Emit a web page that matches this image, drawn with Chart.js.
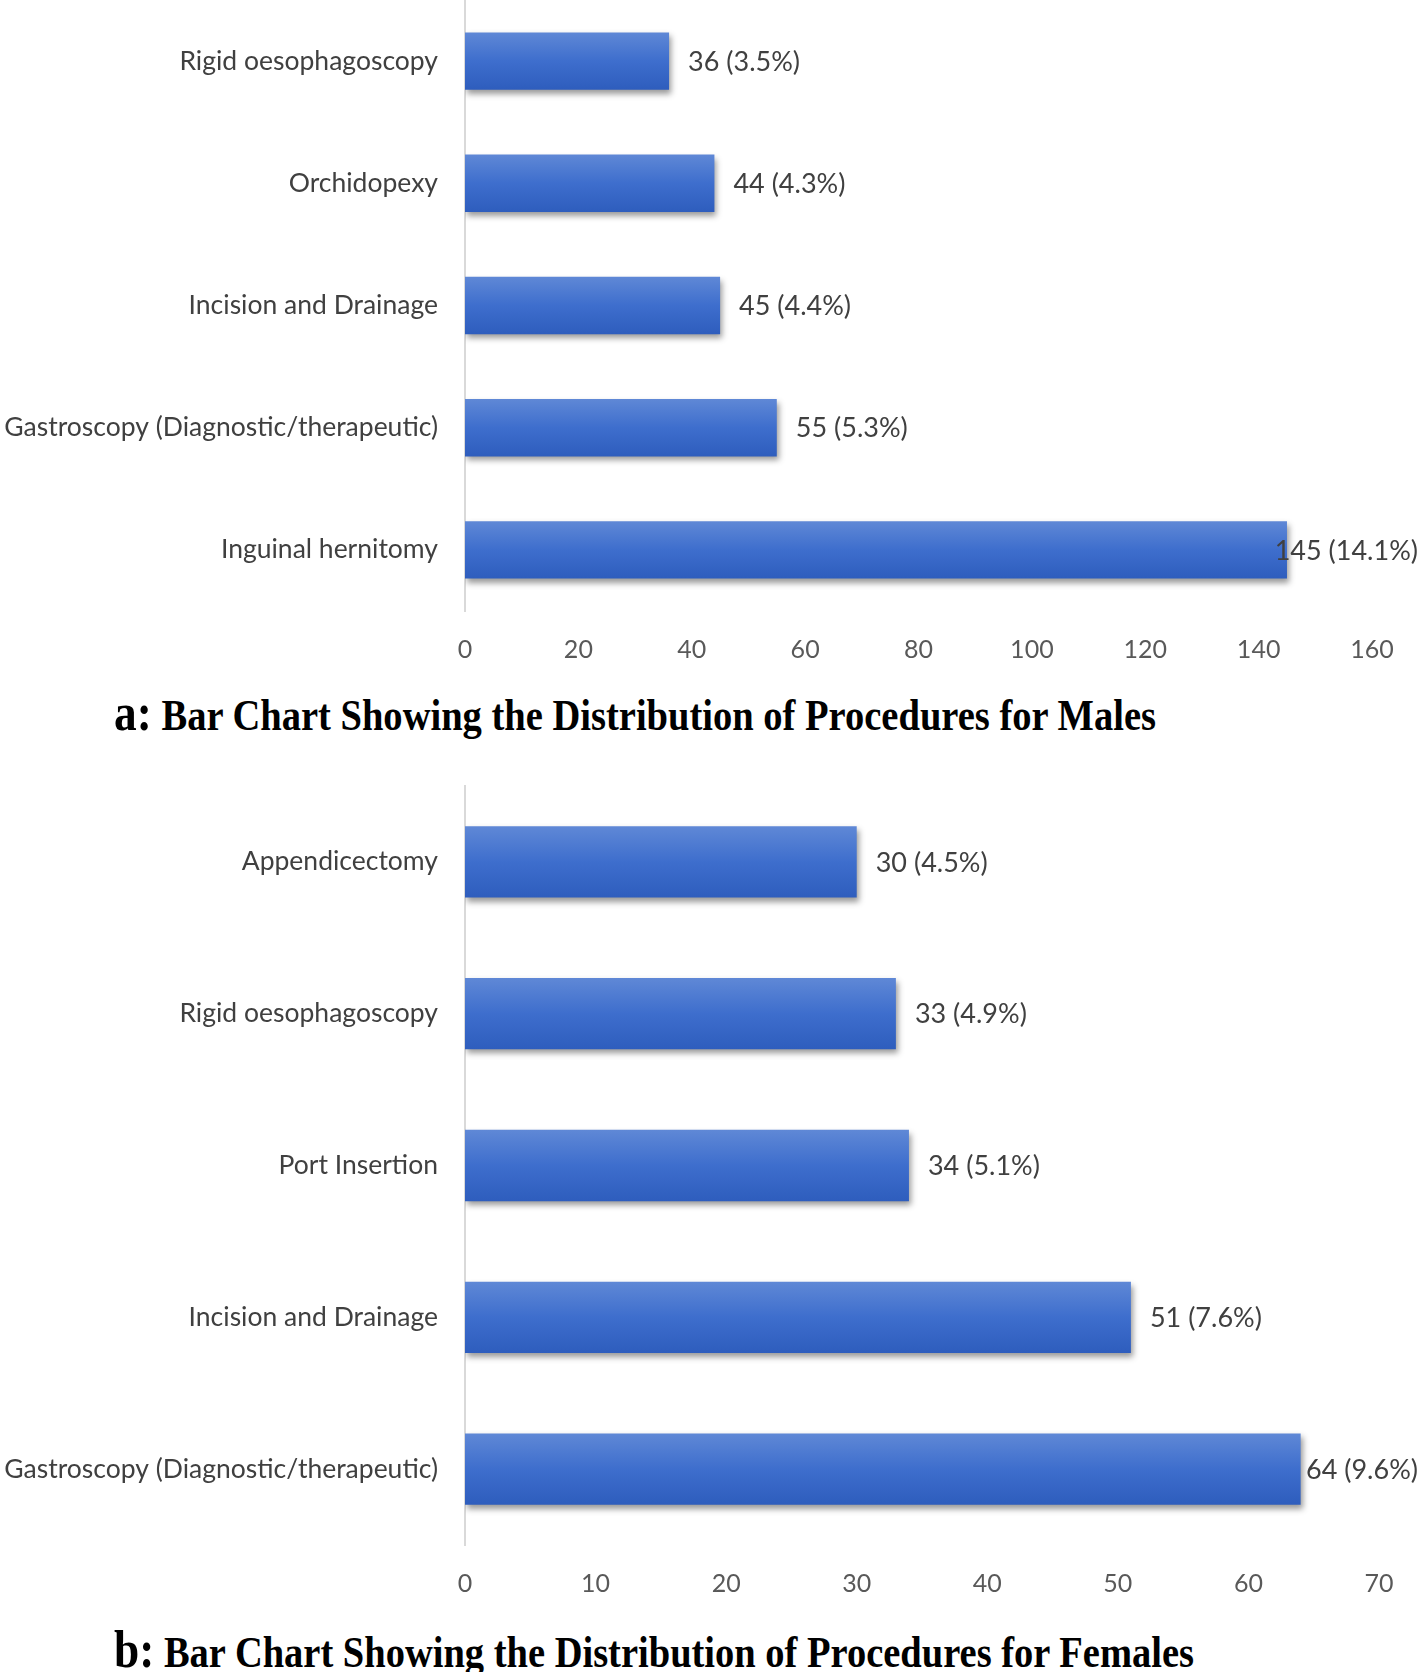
<!DOCTYPE html>
<html>
<head>
<meta charset="utf-8">
<script src="https://cdn.jsdelivr.net/npm/chart.js@4"></script>
<style>
  html, body { margin: 0; padding: 0; background: #fff; }
  body { width: 1418px; height: 1672px; position: relative; overflow: hidden; }
  .box { position: absolute; left: 0; width: 1418px; }
  .cap {
    position: absolute; white-space: nowrap; line-height: 1;
    font-family: "Liberation Serif", "Times New Roman", serif; font-weight: bold;
    font-size: 45px; color: #000; transform-origin: 0 0;
  }
  .cap .lt { font-size: 53px; }
</style>
</head>
<body>
<div class="box" style="top:0;height:680px"><canvas id="maleChart"></canvas></div>
<div class="cap" id="capA" style="left:114px;top:686px" data-w="1042"><span class="lt">a:</span> Bar Chart Showing the Distribution of Procedures for Males</div>
<div class="box" style="top:760px;height:860px"><canvas id="femaleChart"></canvas></div>
<div class="cap" id="capB" style="left:114px;top:1623px" data-w="1080"><span class="lt">b:</span> Bar Chart Showing the Distribution of Procedures for Females</div>

<script>
// Males
const maleLabels = ['Rigid oesophagoscopy', 'Orchidopexy', 'Incision and Drainage',
    'Gastroscopy (Diagnostic/therapeutic)', 'Inguinal hernitomy'];
const maleCounts = [36, 44, 45, 55, 145];
const malePct = ['3.5%', '4.3%', '4.4%', '5.3%', '14.1%'];
const maleTicks = [0, 20, 40, 60, 80, 100, 120, 140, 160];

// Females
const femaleLabels = ['Appendicectomy', 'Rigid oesophagoscopy', 'Port Insertion',
    'Incision and Drainage', 'Gastroscopy (Diagnostic/therapeutic)'];
const femaleCounts = [30, 33, 34, 51, 64];
const femalePct = ['4.5%', '4.9%', '5.1%', '7.6%', '9.6%'];
const femaleTicks = [0, 10, 20, 30, 40, 50, 60, 70];

const BAR_FRAC = 0.47;

// vertical gradient for each bar, from the y scale position of its category
function barFill(context) {
    const chart = context.chart;
    const y = chart.scales && chart.scales.y;
    if (!y || context.dataIndex === undefined) return '#4472c4';
    const mid = y.getPixelForValue(context.dataIndex);
    const half = (y.height / chart.data.labels.length) * BAR_FRAC / 2;
    if (!isFinite(mid) || !isFinite(half) || half <= 0) return '#4472c4';
    const g = chart.ctx.createLinearGradient(0, mid - half, 0, mid + half);
    g.addColorStop(0, '#5f88d6');
    g.addColorStop(0.5, '#3e6ecd');
    g.addColorStop(1, '#2e5dbd');
    return g;
}

const shadowPlugin = {
    id: 'barShadow',
    beforeDatasetsDraw(chart) {
        const ctx = chart.ctx;
        ctx.save();
        ctx.shadowColor = 'rgba(0,0,0,0.4)';
        ctx.shadowBlur = 6;
        ctx.shadowOffsetX = 2;
        ctx.shadowOffsetY = 4;
    },
    afterDatasetsDraw(chart) {
        chart.ctx.restore();
    }
};

const valueLabelPlugin = {
    id: 'valueLabels',
    afterDatasetsDraw(chart, args, opts) {
        const ctx = chart.ctx;
        const meta = chart.getDatasetMeta(0);
        const data = chart.data.datasets[0].data;
        ctx.save();
        ctx.font = '27px Lato';
        ctx.fillStyle = '#404040';
        ctx.textBaseline = 'middle';
        ctx.textAlign = 'left';
        meta.data.forEach((bar, i) => {
            const txt = data[i] + ' (' + opts.pct[i] + ')';
            const w = ctx.measureText(txt).width;
            let x = bar.x + opts.gap;
            if (x + w > chart.width) x = chart.width - w;
            ctx.fillText(txt, x, bar.y + 1);
        });
        ctx.restore();
    }
};

function makeChart(id, labels, counts, pct, ticks, cfg) {
    const ctx = document.getElementById(id).getContext('2d');
    return new Chart(ctx, {
        type: 'bar',
        data: {
            labels: labels,
            datasets: [{
                data: counts,
                backgroundColor: barFill,
                borderWidth: 0,
                barPercentage: 1,
                categoryPercentage: BAR_FRAC
            }]
        },
        plugins: [shadowPlugin, valueLabelPlugin],
        options: {
            indexAxis: 'y',
            responsive: true,
            maintainAspectRatio: false,
            animation: false,
            layout: { padding: { top: cfg.top, right: cfg.right, left: 0, bottom: 0 } },
            plugins: {
                legend: { display: false },
                tooltip: { enabled: false },
                valueLabels: { pct: pct, gap: 19 }
            },
            scales: {
                x: {
                    min: 0,
                    max: ticks[ticks.length - 1],
                    afterBuildTicks: s => { s.ticks = ticks.map(v => ({ value: v })); },
                    afterFit: s => {
                        s.height = cfg.xh;
                        s.paddingLeft = 0; s.paddingRight = 0;
                    },
                    grid: { display: false, drawTicks: false },
                    border: { display: false },
                    ticks: { color: '#595959', font: { family: 'Lato', size: 25 }, padding: 24 }
                },
                y: {
                    afterFit: s => {
                        s.width = 465;
                        s.paddingTop = 0; s.paddingBottom = 0;
                    },
                    grid: { display: false, drawTicks: false },
                    border: { display: true, color: '#d9d9d9', width: 2 },
                    ticks: { color: '#404040', font: { family: 'Lato', size: 26.5 }, padding: 27 }
                }
            }
        }
    });
}

makeChart('maleChart', maleLabels, maleCounts, malePct, maleTicks, { top: 0, right: 46, xh: 69 });
makeChart('femaleChart', femaleLabels, femaleCounts, femalePct, femaleTicks, { top: 26, right: 39, xh: 75 });

// squeeze the captions to the condensed width of the original
document.querySelectorAll('.cap').forEach(el => {
    const w = el.getBoundingClientRect().width;
    el.style.transform = 'scaleX(' + (+el.dataset.w / w) + ')';
});
</script>
</body>
</html>
